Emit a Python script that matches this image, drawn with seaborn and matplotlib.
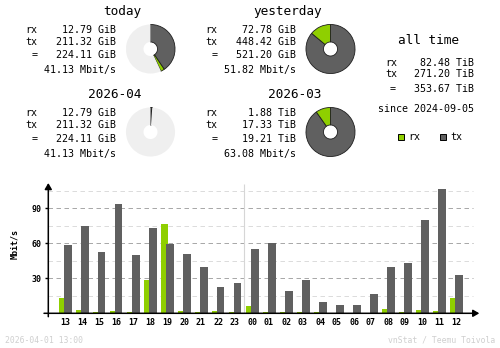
import numpy as np
import matplotlib
matplotlib.use("Agg")
import matplotlib.pyplot as plt
from matplotlib.patches import Rectangle
import seaborn as sns

# ---------------------------------------------------------------- data
hours = ["13", "14", "15", "16", "17", "18", "19", "20", "21", "22", "23", "00",
         "01", "02", "03", "04", "05", "06", "07", "08", "09", "10", "11", "12"]
rx_mbit = [13.1, 2.8, 1.0, 1.7, 1.0, 28.6, 76.6, 1.7, 1.0, 1.7, 1.0, 6.3,
           1.0, 1.0, 1.0, 1.0, 0.0, 0.0, 0.0, 3.7, 1.0, 2.8, 1.9, 13.1]
tx_mbit = [58.5, 74.8, 52.5, 94.0, 50.0, 73.1, 59.4, 50.8, 39.7, 22.6, 26.0, 55.1,
           60.3, 19.1, 28.8, 9.7, 7.1, 7.1, 16.5, 39.7, 43.1, 80.0, 106.6, 32.8]
y_ticks = [30, 60, 90]
y_minor = [15, 45, 75, 105]

period_titles = ["today", "yesterday", "2026-04", "2026-03"]
period_rx = [12.79, 72.78, 12.79, 1.88]
period_tx = [211.32, 448.42, 211.32, 17.33]
period_total = [224.11, 521.20, 224.11, 19.21]
period_unit = ["GiB", "GiB", "GiB", "TiB"]
period_rate = [41.13, 51.82, 41.13, 63.08]
# full circle of each pie (GiB): previous day / previous month, or own total
pie_full = [521.20, 521.20, 19.21 * 1024, 19.21 * 1024]

alltime_rx = "82.48 TiB"
alltime_tx = "271.20 TiB"
alltime_total = "353.67 TiB"
alltime_since = "since 2024-09-05"
timestamp = "2026-04-01 13:00"
credit = "vnStat / Teemu Toivola"

# ---------------------------------------------------------------- style
RX = "#8fcf00"
TX = "#606060"
EMPTY = "#efefef"
FAINT = "#cfcfcf"
MONO = "DejaVu Sans Mono"

W, H = 500, 348
fig = plt.figure(figsize=(W / 100, H / 100), dpi=100)
plt.rcParams["font.family"] = MONO


def fpos(x, y):
    return x / W, 1 - y / H


def gib(v, unit):
    return v * 1024 if unit == "TiB" else v


# ---------------------------------------------------------------- summary blocks
blocks = [  # label x, value right edge, title right edge, title baseline, pie centre
    (25.3, 115.5, 141.7, 15.0, (150.5, 49.0)),
    (205.3, 295.5, 321.5, 15.0, (330.5, 49.0)),
    (25.3, 115.5, 141.7, 98.5, (150.5, 132.0)),
    (205.3, 295.5, 321.5, 98.5, (330.5, 132.0)),
]
row_offsets = [17.7, 30.0, 43.3, 58.0]

for i, (lx, vx, tx_, base, (cx, cy)) in enumerate(blocks):
    fig.text(*fpos(tx_, base), period_titles[i], ha="right", va="baseline",
             fontsize=9.2, family=MONO)
    unit = period_unit[i]
    rows = [("rx", f"{period_rx[i]:.2f} {unit}"),
            ("tx", f"{period_tx[i]:.2f} {unit}"),
            ("=", f"{period_total[i]:.2f} {unit}")]
    for (lab, val), off in zip(rows, row_offsets[:3]):
        x_lab = lx + 6 if lab == "=" else lx
        fig.text(*fpos(x_lab, base + off), lab, ha="left", va="baseline",
                 fontsize=7.2, family=MONO)
        fig.text(*fpos(vx, base + off), val, ha="right", va="baseline",
                 fontsize=7.2, family=MONO)
    fig.text(*fpos(vx, base + row_offsets[3]), f"{period_rate[i]:.2f} Mbit/s",
             ha="right", va="baseline", fontsize=7.2, family=MONO)

    # donut: tx clockwise from the top, then rx, rest left empty
    r_px = 26
    pax = fig.add_axes([(cx - r_px) / W, 1 - (cy + r_px) / H, 2 * r_px / W, 2 * r_px / H])
    t = gib(period_tx[i], unit) / pie_full[i]
    r = gib(period_rx[i], unit) / pie_full[i]
    rest = max(0.0, 1 - t - r)
    vals = [t, r, rest] if rest > 1e-4 else [t, r]
    cols = [TX, RX, EMPTY][:len(vals)]
    wedges, _ = pax.pie(vals, colors=cols, startangle=90, counterclock=False,
                        radius=1, normalize=True,
                        wedgeprops=dict(width=0.714, linewidth=0.6, edgecolor="#1e1e1e"))
    if len(wedges) == 3:
        wedges[2].set_edgecolor("none")
    pax.set_xlim(-1.06, 1.06)
    pax.set_ylim(-1.06, 1.06)
    pax.set_aspect("equal")
    pax.axis("off")

# all time block
fig.text(*fpos(428.8, 44.3), "all time", ha="center", va="baseline", fontsize=9.2, family=MONO)
for lab, val, y, lx in [("rx", alltime_rx, 65.7, 385.0), ("tx", alltime_tx, 77.3, 385.0),
                        ("=", alltime_total, 91.7, 389.3)]:
    fig.text(*fpos(lx, y), lab, ha="left", va="baseline", fontsize=7.2, family=MONO)
    fig.text(*fpos(474.5, y), val, ha="right", va="baseline", fontsize=7.2, family=MONO)
fig.text(*fpos(474.5, 111.7), alltime_since, ha="right", va="baseline", fontsize=7.2, family=MONO)

# legend
for x0, col, lab in [(398.0, RX, "rx"), (440.0, TX, "tx")]:
    fig.patches.append(Rectangle(fpos(x0, 139.5), 6 / W, 6 / H, transform=fig.transFigure,
                                 facecolor=col, edgecolor="black", linewidth=0.7))
    fig.text(*fpos(x0 + 10, 140.5), lab, ha="left", va="baseline", fontsize=7.2, family=MONO)

# ---------------------------------------------------------------- hourly bar chart
L, R, B, T = 48.3, 479.3, 313.3, 183.0
X0, STEP = 65.0, 17.0          # pixel centre of first hour, pixel spacing
PX_PER_UNIT = 35.0 / 30.0
ax = fig.add_axes([L / W, 1 - B / H, (R - L) / W, (B - T) / H])

pos = np.arange(len(hours), dtype=float)
bar_w = 8.0 / STEP
shift = 2.5 / STEP
sns.barplot(x=pos - shift, y=rx_mbit, native_scale=True, width=bar_w, color=RX,
            saturation=1, linewidth=0, errorbar=None, ax=ax)
sns.barplot(x=pos + shift, y=tx_mbit, native_scale=True, width=bar_w, color=TX,
            saturation=1, linewidth=0, errorbar=None, ax=ax)

xmin, xmax = (L - X0) / STEP, (R - X0) / STEP
ymax = (B - T) / PX_PER_UNIT
ax.set_xlim(xmin, xmax)
ax.set_ylim(0, ymax)
grid_end = (473.0 - X0) / STEP
ax.hlines(y_minor, xmin, grid_end, colors="#dcdcdc", linewidth=0.72,
          linestyles=(0, (4.5, 3.5)), zorder=0.4)
ax.hlines(y_ticks, xmin, grid_end, colors="#a9a9a9", linewidth=0.72,
          linestyles=(0, (4.5, 3.5)), zorder=0.5)
# day boundary between 23 and 00
ax.vlines(hours.index("00") - 0.5, 0, (B - 184.0) / PX_PER_UNIT, colors="#d6d6d6",
          linewidth=0.8, zorder=0.5)

for s in ax.spines.values():
    s.set_visible(False)
ax.set_xticks(pos, hours)
ax.set_yticks(y_ticks, [str(v) for v in y_ticks])
ax.tick_params(axis="x", length=0, pad=3.2, labelsize=6, labelcolor="black")
ax.tick_params(axis="y", length=2.2, width=1.0, pad=2.4, labelsize=6, direction="out")
for lab in ax.get_xticklabels() + ax.get_yticklabels():
    lab.set_fontweight("bold")
    lab.set_family(MONO)
ax.set_xlabel("")
ax.set_ylabel("")

arrow = dict(arrowstyle="-|>,head_length=0.6,head_width=0.35", mutation_scale=6,
             color="black", lw=1.1, shrinkA=0, shrinkB=0)
ax.annotate("", xy=(0, 1), xytext=(0, -3.4 / (B - T)), xycoords="axes fraction",
            textcoords="axes fraction", arrowprops=arrow, annotation_clip=False)
ax.annotate("", xy=(1, 0), xytext=(-4.3 / (R - L), 0), xycoords="axes fraction",
            textcoords="axes fraction", arrowprops=arrow, annotation_clip=False)

fig.text(*fpos(14.8, 244.0), "Mbit/s", rotation=90, ha="center", va="center",
         fontsize=6, fontweight="bold", family=MONO)

# footer
fig.text(*fpos(5.0, 342.7), timestamp, ha="left", va="baseline", fontsize=5.9,
         color=FAINT, family=MONO)
fig.text(*fpos(495.5, 342.7), credit, ha="right", va="baseline", fontsize=5.9,
         color=FAINT, family=MONO)

fig.savefig("out.png", dpi=100)
